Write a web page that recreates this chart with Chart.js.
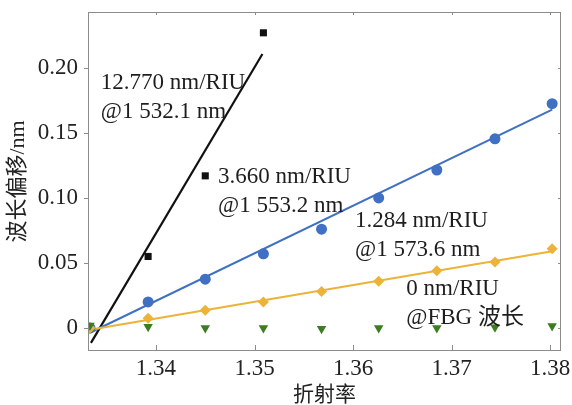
<!DOCTYPE html>
<html>
<head>
<meta charset="utf-8">
<script src="https://cdn.jsdelivr.net/npm/chart.js@4/dist/chart.umd.min.js"></script>
<style>
  html, body { margin: 0; padding: 0; background: #ffffff; }
  #wrap { width: 572px; height: 405px; }
</style>
</head>
<body>
<div id="wrap"><canvas id="c" width="572" height="405"></canvas></div>
<script>
// Refractive index of the surrounding liquid
const refractiveIndex = [1.3333, 1.3392, 1.3450, 1.3509, 1.3568, 1.3626, 1.3685, 1.3744, 1.3802];

// Wavelength shift (nm) of each resonance dip
const shift1532 = [0, 0.055, 0.117, 0.227, null, null, null, null, null];
const shift1553 = [0, 0.020, 0.0375, 0.057, 0.076, 0.100, 0.1215, 0.1455, 0.1725];
const shift1573 = [0, 0.0075, 0.0137, 0.020, 0.028, 0.036, 0.0440, 0.0508, 0.0610];
const shiftFBG  = [0.002, 0.001, 0, 0, -0.0005, 0, 0, 0.0005, 0.0015];

// Linear-fit sensitivities (nm/RIU) and the index where each fit crosses zero
const sensitivity = [12.770, 3.660, 1.284];
const fitZeroIndex = 1.3343;
const fitStart = [1.3334, 1.3333, 1.3333];
const fitEnd   = [1.3508, 1.3802, 1.3802];

const xTicks = [1.34, 1.35, 1.36, 1.37, 1.38];
const yTicks = [0, 0.05, 0.10, 0.15, 0.20];

const sensLabels = [
  ['12.770 nm/RIU', '@1 532.1 nm'],
  ['3.660 nm/RIU', '@1 553.2 nm'],
  ['1.284 nm/RIU', '@1 573.6 nm'],
  ['0 nm/RIU', '@FBG 波长']
];

const colors = ['#111111', '#3f70c4', '#ebb338', '#3d7d22'];
const SERIF = '"Liberation Serif", "Noto Sans CJK SC", serif';

const pts = ys => refractiveIndex.map((x, i) => ({ x, y: ys[i] })).filter(p => p.y !== null);
const fit = k => [fitStart[k], fitEnd[k]].map(x => ({ x, y: sensitivity[k] * (x - fitZeroIndex) }));

// text anchors in axis units (left edge, first-line baseline)
const labelAnchors = [
  { x: 1.3344, y: 0.1838 },
  { x: 1.3463, y: 0.1115 },
  { x: 1.3602, y: 0.0777 },
  { x: 1.3654, y: 0.0254 }
];

const frame = {
  id: 'frame',
  afterDatasetsDraw(chart) {
    const { ctx, chartArea: a, scales: { x, y } } = chart;
    ctx.save();
    ctx.strokeStyle = '#8c8c8c';
    ctx.lineWidth = 1;
    ctx.strokeRect(a.left + 0.5, a.top + 0.5, a.right - a.left - 1, a.bottom - a.top - 1);
    ctx.beginPath();
    xTicks.forEach(v => {
      const px = Math.round(x.getPixelForValue(v)) + 0.5;
      ctx.moveTo(px, a.bottom); ctx.lineTo(px, a.bottom - 6);
      ctx.moveTo(px, a.top); ctx.lineTo(px, a.top + 3);
    });
    yTicks.forEach(v => {
      const py = Math.round(y.getPixelForValue(v)) + 0.5;
      ctx.moveTo(a.left, py); ctx.lineTo(a.left - 4, py);
      ctx.moveTo(a.right, py); ctx.lineTo(a.right - 3, py);
    });
    ctx.stroke();

    ctx.fillStyle = '#1e1e1e';
    ctx.font = '23px ' + SERIF;
    ctx.textAlign = 'left';
    ctx.textBaseline = 'alphabetic';
    sensLabels.forEach((lines, i) => {
      const px = x.getPixelForValue(labelAnchors[i].x);
      const py = y.getPixelForValue(labelAnchors[i].y);
      lines.forEach((t, j) => ctx.fillText(t, px, py + j * 29));
    });
    ctx.restore();
  }
};

const marker = (data, color, style, r, order, rot) => ({
  data, showLine: false, pointStyle: style, pointRadius: r, pointRotation: rot || 0,
  pointBackgroundColor: color, pointBorderColor: color, borderWidth: 0, order
});
const fitLine = (data, color, w, order) => ({
  data, showLine: true, borderColor: color, borderWidth: w, pointRadius: 0, fill: false, order
});

const noPad = s => { s.paddingTop = 0; s.paddingBottom = 0; s.paddingLeft = 0; s.paddingRight = 0; };

new Chart(document.getElementById('c'), {
  type: 'scatter',
  data: {
    datasets: [
      fitLine(fit(0), colors[0], 2.2, 6),
      fitLine(fit(1), colors[1], 2, 5),
      fitLine(fit(2), colors[2], 2, 4),
      marker(pts(shift1532), colors[0], 'rect', 5, 3),
      marker(pts(shift1553), colors[1], 'circle', 5.5, 2),
      marker(pts(shift1573), colors[2], 'rectRot', 5.5, 1),
      marker(pts(shiftFBG), colors[3], 'triangle', 5.5, 0, 180)
    ]
  },
  options: {
    responsive: false,
    devicePixelRatio: 1,
    animation: false,
    layout: { padding: { top: 12, right: 11, left: 0, bottom: 0 } },
    plugins: { legend: { display: false }, tooltip: { enabled: false } },
    scales: {
      x: {
        type: 'linear', min: 1.3331, max: 1.3811,
        afterFit: s => { s.height = 54; noPad(s); },
        afterBuildTicks: s => { s.ticks = xTicks.map(v => ({ value: v })); },
        border: { display: false },
        grid: { display: false, drawTicks: false },
        ticks: { color: '#222', font: { family: SERIF, size: 23 }, padding: 4,
                 callback: v => v.toFixed(2), maxRotation: 0 },
        title: { display: true, text: '折射率', color: '#222',
                 font: { family: SERIF, size: 21, lineHeight: 1 }, padding: { top: 0, bottom: -1 } }
      },
      y: {
        type: 'linear', min: -0.0177, max: 0.243,
        afterFit: s => { s.width = 88; noPad(s); },
        afterBuildTicks: s => { s.ticks = yTicks.map(v => ({ value: v })); },
        border: { display: false },
        grid: { display: false, drawTicks: false },
        ticks: { color: '#222', font: { family: SERIF, size: 23 }, padding: 10,
                 callback: v => (v === 0 ? '0' : v.toFixed(2)) },
        title: { display: true, text: '波长偏移/nm', color: '#222',
                 font: { family: SERIF, size: 22, lineHeight: 1 }, padding: { top: 7, bottom: 0 } }
      }
    }
  },
  plugins: [frame]
});
</script>
</body>
</html>
